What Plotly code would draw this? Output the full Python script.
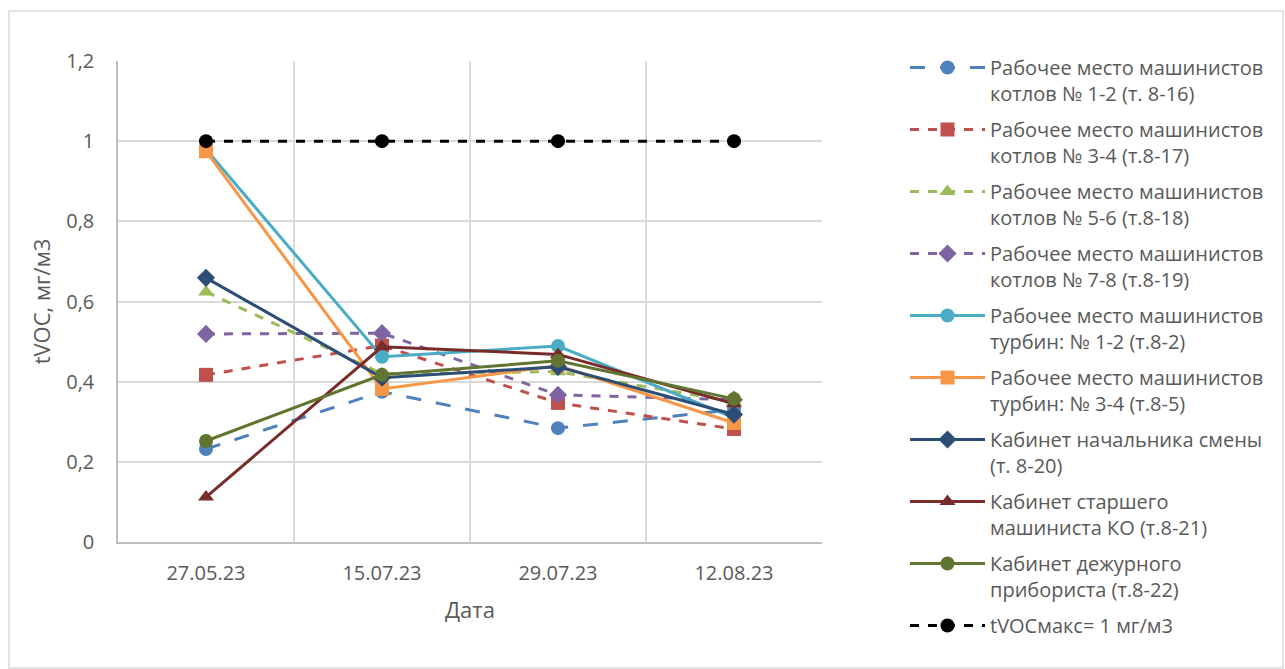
import plotly.graph_objects as go

dates = ["27.05.23", "15.07.23", "29.07.23", "12.08.23"]

names = [
    "Рабочее место машинистов<br>котлов № 1-2 (т. 8-16)",
    "Рабочее место машинистов<br>котлов № 3-4 (т.8-17)",
    "Рабочее место машинистов<br>котлов № 5-6 (т.8-18)",
    "Рабочее место машинистов<br>котлов № 7-8 (т.8-19)",
    "Рабочее место машинистов<br>турбин: № 1-2 (т.8-2)",
    "Рабочее место машинистов<br>турбин: № 3-4 (т.8-5)",
    "Кабинет начальника смены<br>(т. 8-20)",
    "Кабинет старшего<br>машиниста КО (т.8-21)",
    "Кабинет дежурного<br>прибориста (т.8-22)",
    "tVOCмакс= 1 мг/м3",
]

t8_16 = [0.232, 0.375, 0.284, 0.33]
t8_17 = [0.417, 0.49, 0.347, 0.282]
t8_18 = [0.624, 0.42, 0.425, 0.35]
t8_19 = [0.519, 0.521, 0.367, 0.355]
t8_2 = [0.98, 0.462, 0.489, 0.31]
t8_5 = [0.975, 0.382, 0.44, 0.297]
t8_20 = [0.659, 0.41, 0.437, 0.318]
t8_21 = [0.112, 0.487, 0.468, 0.345]
t8_22 = [0.252, 0.417, 0.452, 0.357]
tvoc_max = [1, 1, 1, 1]

values = [t8_16, t8_17, t8_18, t8_19, t8_2, t8_5, t8_20, t8_21, t8_22, tvoc_max]
colors = ["#4f81bd", "#c0504d", "#9bbb59", "#8064a2", "#4bacc6",
          "#f79646", "#2c4d75", "#772c2a", "#5f7530", "#000000"]
dashes = ["longdash", "dash", "dash", "dash", "solid",
          "solid", "solid", "solid", "solid", "dash"]
symbols = ["circle", "square", "triangle-up", "diamond", "circle",
           "square", "diamond", "triangle-up", "circle", "circle"]

fig = go.Figure()
for i, (name, vals, col, dash, sym) in enumerate(zip(names, values, colors, dashes, symbols)):
    fig.add_trace(go.Scatter(
        x=dates, y=vals, name=name, mode="lines+markers",
        legendgroup=f"g{i}",
        line=dict(color=col, width=3, dash=dash),
        marker=dict(symbol=sym, size=14, color=col),
    ))

W, H = 1285, 669
L, R, T, B = 118, 463, 61, 127
pw, ph = W - L - R, H - T - B

fig.update_layout(
    width=W, height=H,
    margin=dict(l=L, r=R, t=T, b=B),
    paper_bgcolor="white", plot_bgcolor="white",
    separators=", ",
    font=dict(family="Open Sans, Liberation Sans, sans-serif", size=20, color="#595959"),
    showlegend=True,
    legend=dict(
        x=(905 - L) / pw, xanchor="left", y=1 + (T - 48) / ph, yanchor="top",
        font=dict(size=20, color="#595959"),
        valign="top", tracegroupgap=7, itemwidth=75, maxheight=1.0,
        bgcolor="rgba(0,0,0,0)",
    ),
    xaxis=dict(
        type="category", range=[-0.5, 3.5],
        showgrid=True, gridcolor="#d9d9d9", gridwidth=1.5,
        tickson="boundaries", ticks="",
        showline=True, linecolor="#bfbfbf", linewidth=1.5,
        ticklabelstandoff=12,
        title=dict(text="Дата", font=dict(size=22, color="#595959"), standoff=18),
        tickfont=dict(size=20, color="#595959"),
    ),
    yaxis=dict(
        range=[0, 1.2], dtick=0.2, tick0=0,
        showgrid=True, gridcolor="#d9d9d9", gridwidth=1.5,
        zeroline=False, showline=True, linecolor="#bfbfbf", linewidth=1.5,
        ticks="", ticklabelstandoff=18,
        title=dict(text="tVOC, мг/м3", font=dict(size=22, color="#595959"), standoff=10),
        tickfont=dict(size=20, color="#595959"),
    ),
    shapes=[dict(
        type="rect", xref="paper", yref="paper",
        x0=(9 - L) / pw, x1=(1283 - L) / pw,
        y0=-(668 - (T + ph)) / ph, y1=1 + (T - 11) / ph,
        line=dict(color="#d9d9d9", width=1.5), fillcolor="rgba(0,0,0,0)", layer="below",
    )],
)

fig.write_html("out.html")
